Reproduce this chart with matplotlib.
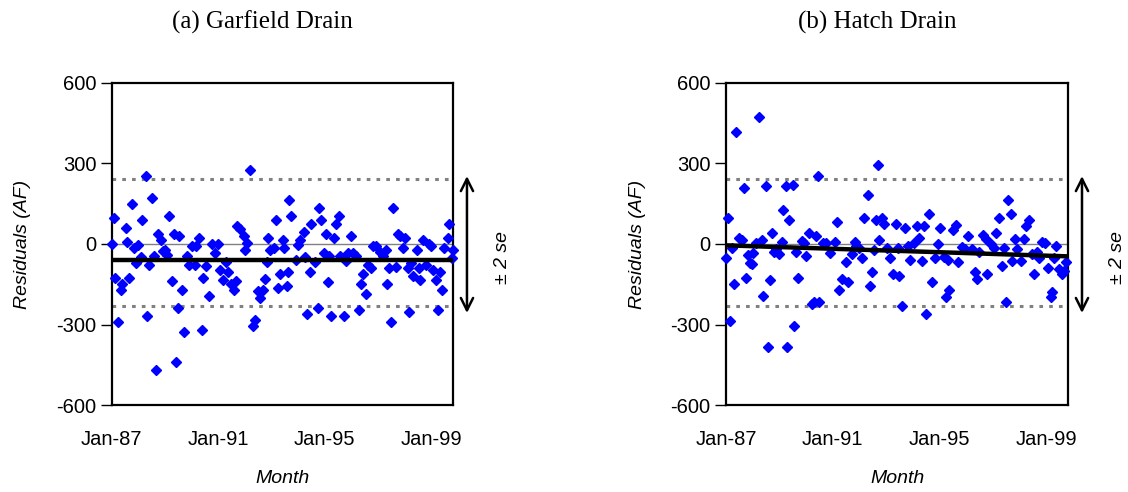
import matplotlib.pyplot as plt
import matplotlib.transforms as mtransforms

plt.rcParams['axes.unicode_minus'] = False

# month index (0 = Jan-87) and residuals (AF)
months_a = [0, 1, 1.5, 3, 4, 4.5, 6.5, 7, 8, 9, 10, 11, 12, 13, 13.5, 15.5, 16, 17, 18, 19,
            20, 21, 22, 23, 24, 25, 26, 27, 28, 29, 30, 30.5, 31.5, 32.5, 34, 35, 36, 37.5, 38, 39.5,
            40.5, 41, 42.5, 44, 45, 46.5, 48, 49, 50, 51.5, 52.5, 54, 55, 56, 56.5, 58, 59.5, 60, 61, 62.5,
            63.5, 64.5, 66, 67, 68, 69, 70, 70.5, 71.5, 73, 74, 75, 76, 77, 77.5, 79, 79.5, 80, 81, 83,
            84, 85, 86.5, 87, 88, 89.5, 90, 91.5, 93, 93.5, 94.5, 95.5, 96.5, 97.5, 98, 99, 100, 101, 102.5, 103,
            104.5, 105.5, 106.5, 108, 109, 110, 111.5, 112.5, 113.5, 114.5, 115.5, 117, 118, 119, 121, 122.5,
            123.5, 124, 125, 126, 127, 128, 129, 130, 131.5, 132, 133.5, 134, 135, 136, 137.5, 138.5, 139,
            140.5, 141.5, 143, 144, 145, 146, 147, 148, 149, 150, 151.5, 152, 153.5, 154]
resid_a = [0, 97, -128, -290, -172, -148, 60, 7, -128, 149, -15, -71, -5, -48, 88, 252, -269, -77, 171, -43,
           -470, 38, 16, -27, -21, -40, 105, -136, 38, -440, -238, 31, -172, -329, -43, -77, -9, -77, -9, 21,
           -321, -126, -83, -195, 0, -33, 1, -95, -135, -68, -104, -148, -172, -139, 68, 56, 29, -24, 4, 274,
           -306, -281, -176, -201, -170, -129, -68, 22, -24, -15, 88, -165, -110, 16, -15, -157, -104, 162, 105, -61,
           -2, 16, 43, -48, -260, -104, 76, -68, -238, 134, 88, -33, 38, -141, -46, -269, 22, 76, 105, -43,
           -269, -62, -33, 29, -33, -46, -244, -148, -112, -185, -77, -89, -6, -9, -31, -46,
           -24, -148, -89, -290, 134, -86, 38, 31, -15, 22, -89, -253, -71, -120, -24, -89, -135,
           16, -77, 1, -9, -98, -135, -244, -105, -172, -15, 22, 76, -52, -21]

months_b = [0, 1, 2, 2.5, 3.5, 4.5, 6, 7, 8, 9, 10, 11, 11.5, 12, 13.5, 15, 16, 16.5, 18, 19,
            20, 20.5, 21.5, 22.5, 24, 25, 25.5, 27, 27.5, 28.5, 30, 30.5, 31.5, 32.5, 34, 35, 36, 37.5, 38.5, 39.5,
            40.5, 41.5, 42, 43.5, 45, 47, 49, 50, 51, 52, 54, 55, 56.5, 58, 58.5, 60, 61, 62, 64, 65,
            65.5, 66.5, 67.5, 68.5, 69, 70, 71, 72.5, 74, 75, 76.5, 77.5, 78, 79, 80.5, 82, 83, 84.5, 86, 87,
            88, 89, 90, 91.5, 92.5, 94, 95.5, 96.5, 98, 99, 100, 100.5, 102, 103.5, 104.5, 106, 107.5, 109, 110.5, 112,
            113, 114, 115.5, 117, 117.5, 119, 120.5, 121.5, 123, 124, 125, 126, 127, 128, 128.5, 130, 131, 132.5,
            134, 135, 136.5, 137.5, 138.5, 140, 141, 142, 143.5, 145, 146, 146.5, 147.5, 148.5, 150, 151, 152, 153]
resid_b = [-51, 98, -288, -14, -147, 415, 23, 15, 209, -127, -41, -69, -75, -32, 5, 474, 14, -193, 215, -384,
           -133, 40, -30, -20, -36, 9, 128, 215, -384, 89, 221, -304, -30, -127, 11, 2, -44, 40, -224, -215,
           30, 252, -215, 5, 2, -32, 7, 82, -170, -131, -67, -140, -38, 9, -7, -14, -51, 98, 184, -156,
           -104, -23, 88, 295, 15, 98, 73, -14, -51, -110, 75, -14, -119, -230, 58, -7, -60, 2, 67, 23,
           -65, 67, -261, 112, -140, -53, 1, 58, -48, -199, -60, -170, 52, 70, -67, -11, -20, 30, -20, -106,
           -131, -30, 33, 17, -110, -1, -16, 40, 98, -82, -14, -215, 165, 112, -65, 17, -20, -65,
           17, 67, 91, -38, -110, -28, -51, 9, 5, -90, -199, -180, -51, -7, -94, -110, -100, -67]

# fitted line (start, end) and +/- 2 se band
mean_a = (-59, -59)
trend_b = (-5, -46)
upper_se, lower_se = 243, -232
month_end = 154

tick_pos = [0, 48, 96, 144]
tick_lbl = ["Jan-87", "Jan-91", "Jan-95", "Jan-99"]
titles = ["(a) Garfield Drain", "(b) Hatch Drain"]

fig = plt.figure(figsize=(11.28, 4.92), dpi=100)
ax_a = fig.add_axes([111.7 / 1128, 86.7 / 492, 341.6 / 1128, 322.6 / 492])
ax_b = fig.add_axes([726.0 / 1128, 86.7 / 492, 342.3 / 1128, 322.6 / 492])

panels = [(ax_a, months_a, resid_a, mean_a), (ax_b, months_b, resid_b, trend_b)]
for k, (ax, xs, ys, fit) in enumerate(panels):
    ax.axhline(0, color="#808080", lw=1.0, zorder=1)
    ax.axhline(upper_se, color="#808080", lw=2.2, ls=(0, (1.2, 2.0)), zorder=1)
    ax.axhline(lower_se, color="#808080", lw=2.2, ls=(0, (1.2, 2.0)), zorder=1)
    ax.plot(xs, ys, ls="none", marker="D", ms=5.6, color="#0000FF", mec="#0000FF", zorder=3, clip_on=False)
    ax.plot([0, month_end], fit, color="black", lw=3.2, zorder=4)
    ax.set_xlim(0, month_end)
    ax.set_ylim(-600, 600)
    ax.set_yticks([-600, -300, 0, 300, 600])
    ax.set_xticks(tick_pos)
    ax.set_xticklabels(tick_lbl)
    ax.tick_params(axis="x", length=0, pad=18, labelsize=14.5)
    ax.tick_params(axis="y", length=8, width=1.0, pad=3, labelsize=14.5, direction="out")
    for tl in ax.get_xticklabels() + ax.get_yticklabels():
        tl.set_fontfamily("Liberation Sans")
    for s in ax.spines.values():
        s.set_linewidth(1.6)
    ax.set_ylabel("Residuals (AF)", fontsize=14, style="italic", family="Liberation Sans", labelpad=18)
    ax.set_xlabel("Month", fontsize=14, style="italic", family="Liberation Sans", labelpad=15)

    # +/- 2 se arrow to the right of the plot
    trans = mtransforms.blended_transform_factory(ax.transAxes, ax.transData)
    ax.annotate("", xy=(1.04, lower_se - 35), xytext=(1.04, upper_se + 20), xycoords=trans, textcoords=trans,
                arrowprops=dict(arrowstyle="<->", color="black", lw=1.8, mutation_scale=22), annotation_clip=False)
    ax.text(1.145, -50, "± 2 se", transform=trans, rotation=90, ha="center", va="center",
            fontsize=14, style="italic", family="Liberation Sans")

fig.text(262 / 1128, 1 - 22 / 492, titles[0], ha="center", va="center", fontsize=18, family="Liberation Serif")
fig.text(877 / 1128, 1 - 22 / 492, titles[1], ha="center", va="center", fontsize=18, family="Liberation Serif")

fig.savefig("out.png", dpi=100)
